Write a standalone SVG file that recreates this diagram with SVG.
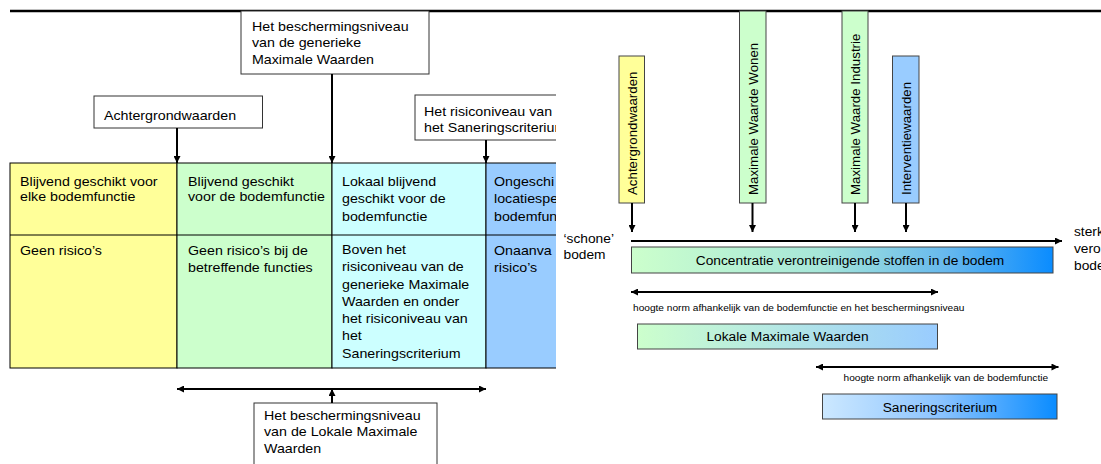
<svg xmlns="http://www.w3.org/2000/svg" width="1101" height="464" viewBox="0 0 1101 464">
<style>
text{font-family:"Liberation Sans",Arial,sans-serif;fill:#000}
.t{font-size:13.3px}
.s{font-size:9.8px}
.m{text-anchor:middle}
.box{fill:#fff;stroke:#333;stroke-width:1}
.cell{stroke:#000;stroke-width:1}
.arr{stroke:#000;stroke-width:2;fill:none}
.vb{stroke:#444;stroke-width:1}
</style>
<defs>
<marker id="ah" viewBox="0 0 8 8" refX="8" refY="4" markerWidth="8" markerHeight="7" orient="auto-start-reverse" markerUnits="userSpaceOnUse">
<path d="M0,0 L8,4 L0,8 z" fill="#000"/>
</marker>
<linearGradient id="gConc" x1="0" y1="0" x2="1" y2="0">
<stop offset="0" stop-color="#ccffcc"/>
<stop offset="0.45" stop-color="#a6e6d9"/>
<stop offset="0.75" stop-color="#66b8ee"/>
<stop offset="1" stop-color="#0a8cff"/>
</linearGradient>
<linearGradient id="gLok" x1="0" y1="0" x2="1" y2="0">
<stop offset="0" stop-color="#ccffcc"/>
<stop offset="1" stop-color="#99ccff"/>
</linearGradient>
<linearGradient id="gSan" x1="0" y1="0" x2="1" y2="0">
<stop offset="0" stop-color="#cce8ff"/>
<stop offset="0.5" stop-color="#8cc4ff"/>
<stop offset="1" stop-color="#0a8cff"/>
</linearGradient>
<clipPath id="leftClip"><rect x="0" y="0" width="556" height="464"/></clipPath>
</defs>

<line x1="10" y1="11" x2="1101" y2="11" stroke="#000" stroke-width="2.5"/>

<g clip-path="url(#leftClip)">
<g id="table">
<rect class="cell" x="10" y="163" width="167" height="205" fill="#ffff99"/>
<rect class="cell" x="177" y="163" width="155" height="205" fill="#ccffcc"/>
<rect class="cell" x="332" y="163" width="154" height="205" fill="#ccffff"/>
<rect class="cell" x="486" y="163" width="100" height="205" fill="#99ccff"/>
<line class="cell" x1="10" y1="235" x2="586" y2="235"/>
<text class="t" transform="matrix(1.07 0 0 1 20 0)" y="186">Blijvend geschikt voor</text>
<text class="t" transform="matrix(1.07 0 0 1 20 0)" y="201">elke bodemfunctie</text>
<text class="t" transform="matrix(1.07 0 0 1 188 0)" y="186">Blijvend geschikt</text>
<text class="t" transform="matrix(1.07 0 0 1 188 0)" y="201">voor de bodemfunctie</text>
<text class="t" transform="matrix(1.07 0 0 1 342 0)" y="186">Lokaal blijvend</text>
<text class="t" transform="matrix(1.07 0 0 1 342 0)" y="203.5">geschikt voor de</text>
<text class="t" transform="matrix(1.07 0 0 1 342 0)" y="221">bodemfunctie</text>
<text class="t" transform="matrix(1.07 0 0 1 494 0)" y="186">Ongeschi</text>
<text class="t" transform="matrix(1.07 0 0 1 494 0)" y="203.5">locatiespe</text>
<text class="t" transform="matrix(1.07 0 0 1 494 0)" y="221">bodemfun</text>
<text class="t" transform="matrix(1.07 0 0 1 20 0)" y="255">Geen risico’s</text>
<text class="t" transform="matrix(1.07 0 0 1 188 0)" y="255">Geen risico’s bij de</text>
<text class="t" transform="matrix(1.07 0 0 1 188 0)" y="272">betreffende functies</text>
<text class="t" transform="matrix(1.07 0 0 1 342 0)" y="254">Boven het</text>
<text class="t" transform="matrix(1.07 0 0 1 342 0)" y="271.3">risiconiveau van de</text>
<text class="t" transform="matrix(1.07 0 0 1 342 0)" y="288.6">generieke Maximale</text>
<text class="t" transform="matrix(1.07 0 0 1 342 0)" y="305.9">Waarden en onder</text>
<text class="t" transform="matrix(1.07 0 0 1 342 0)" y="323.2">het risiconiveau van</text>
<text class="t" transform="matrix(1.07 0 0 1 342 0)" y="340.5">het</text>
<text class="t" transform="matrix(1.07 0 0 1 342 0)" y="357.8">Saneringscriterium</text>
<text class="t" transform="matrix(1.07 0 0 1 494 0)" y="255">Onaanva</text>
<text class="t" transform="matrix(1.07 0 0 1 494 0)" y="272">risico’s</text>
</g>
<g id="box-risico">
<rect class="box" x="415" y="95" width="190" height="45"/>
<text class="t" transform="matrix(1.07 0 0 1 424 0)" y="116">Het risiconiveau van</text>
<text class="t" transform="matrix(1.07 0 0 1 424 0)" y="132">het Saneringscriterium</text>
</g>
</g>

<g id="box-generiek">
<rect class="box" x="241" y="11" width="188" height="63"/>
<text class="t" transform="matrix(1.07 0 0 1 252 0)" y="31">Het beschermingsniveau</text>
<text class="t" transform="matrix(1.07 0 0 1 252 0)" y="47.5">van de generieke</text>
<text class="t" transform="matrix(1.07 0 0 1 252 0)" y="64">Maximale Waarden</text>
</g>
<g id="box-achtergrond">
<rect class="box" x="94" y="96" width="168.5" height="32"/>
<text class="t" transform="matrix(1.07 0 0 1 104 0)" y="120">Achtergrondwaarden</text>
</g>
<g id="box-lokaal">
<rect class="box" x="254" y="403" width="183" height="70"/>
<text class="t" transform="matrix(1.07 0 0 1 264 0)" y="420">Het beschermingsniveau</text>
<text class="t" transform="matrix(1.07 0 0 1 264 0)" y="436.5">van de Lokale Maximale</text>
<text class="t" transform="matrix(1.07 0 0 1 264 0)" y="453">Waarden</text>
</g>

<g id="v-achtergrond">
<rect class="vb" x="619" y="56" width="25.5" height="147" fill="#ffff99"/>
<text class="t" transform="translate(636.5,195) rotate(-90)">Achtergrondwaarden</text>
</g>
<g id="v-wonen">
<rect class="vb" x="739.5" y="11" width="26.5" height="192" fill="#ccffcc"/>
<text class="t" transform="translate(757.5,195) rotate(-90)">Maximale Waarde Wonen</text>
</g>
<g id="v-industrie">
<rect class="vb" x="842" y="11" width="26" height="192" fill="#ccffcc"/>
<text class="t" transform="translate(860,195) rotate(-90)">Maximale Waarde Industrie</text>
</g>
<g id="v-interventie">
<rect class="vb" x="892.5" y="56" width="26.5" height="147" fill="#99ccff"/>
<text class="t" transform="translate(910.5,195) rotate(-90)">Interventiewaarden</text>
</g>

<g id="label-schone">
<text class="t" transform="matrix(1.035 0 0 1 563.5 0)" y="243">‘schone’</text>
<text class="t" transform="matrix(1.035 0 0 1 563.5 0)" y="259">bodem</text>
</g>
<g id="label-sterk">
<text class="t" transform="matrix(1.035 0 0 1 1074 0)" y="236">sterk</text>
<text class="t" transform="matrix(1.035 0 0 1 1074 0)" y="253">vero</text>
<text class="t" transform="matrix(1.035 0 0 1 1074 0)" y="270">bode</text>
</g>

<g id="bar-concentratie">
<rect class="vb" x="631.5" y="247" width="421.5" height="26" fill="url(#gConc)"/>
<text class="t m" transform="matrix(1.035 0 0 1 850 0)" y="265">Concentratie verontreinigende stoffen in de bodem</text>
</g>
<g id="label-norm1">
<text class="s" transform="matrix(1.035 0 0 1 633 0)" y="311">hoogte norm afhankelijk van de bodemfunctie en het beschermingsniveau</text>
</g>
<g id="bar-lokale">
<rect class="vb" x="637.5" y="324" width="300" height="25" fill="url(#gLok)"/>
<text class="t m" transform="matrix(1.035 0 0 1 787.5 0)" y="341">Lokale Maximale Waarden</text>
</g>
<g id="label-norm2">
<text class="s" transform="matrix(1.035 0 0 1 843.5 0)" y="381">hoogte norm afhankelijk van de bodemfunctie</text>
</g>
<g id="bar-sanering">
<rect class="vb" x="822.5" y="394" width="234.5" height="25" fill="url(#gSan)"/>
<text class="t m" transform="matrix(1.035 0 0 1 940 0)" y="412">Saneringscriterium</text>
</g>

<g id="connectors">
<line class="arr" x1="177" y1="128" x2="177" y2="163" marker-end="url(#ah)"/>
<line class="arr" x1="332" y1="74" x2="332" y2="163" marker-end="url(#ah)"/>
<line class="arr" x1="486" y1="140" x2="486" y2="163" marker-end="url(#ah)"/>
<line class="arr" x1="177" y1="389" x2="486" y2="389" marker-start="url(#ah)" marker-end="url(#ah)"/>
<line class="arr" x1="332" y1="403" x2="332" y2="389" marker-end="url(#ah)"/>
<line class="arr" x1="632" y1="203" x2="632" y2="232" marker-end="url(#ah)"/>
<line class="arr" x1="752.5" y1="203" x2="752.5" y2="232" marker-end="url(#ah)"/>
<line class="arr" x1="855" y1="203" x2="855" y2="232" marker-end="url(#ah)"/>
<line class="arr" x1="906" y1="203" x2="906" y2="232" marker-end="url(#ah)"/>
<line class="arr" x1="631" y1="241" x2="1062" y2="241" marker-end="url(#ah)"/>
<line class="arr" x1="631" y1="292" x2="938" y2="292" marker-start="url(#ah)" marker-end="url(#ah)"/>
<line class="arr" x1="816" y1="367" x2="1058.5" y2="367" marker-start="url(#ah)" marker-end="url(#ah)"/>
</g>
</svg>
